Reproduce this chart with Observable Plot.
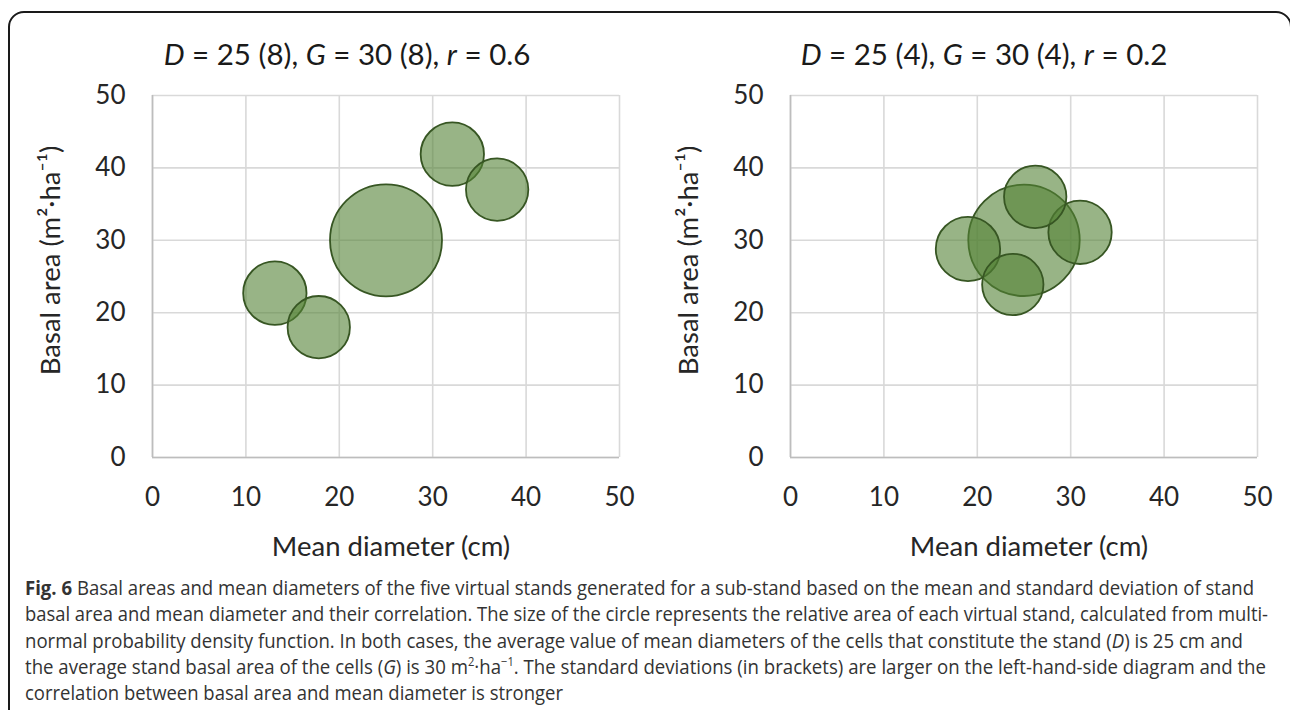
<!DOCTYPE html>
<html><head><meta charset="utf-8">
<script src="https://cdn.jsdelivr.net/npm/d3@7"></script>
<script src="https://cdn.jsdelivr.net/npm/@observablehq/plot@0.6"></script>
<style>
html,body{margin:0;padding:0;background:#fff;}
#page{position:relative;width:1290px;height:710px;overflow:hidden;background:#fff;}
#frame{position:absolute;left:8px;top:11px;width:1284px;height:760px;border:2px solid #1a1a1a;border-radius:16px;box-sizing:border-box;}
.title{position:absolute;top:36px;width:500px;text-align:center;font-family:Lato;font-size:29.5px;line-height:35px;color:#1a1a1a;white-space:nowrap;}
.chart{position:absolute;top:0;}
#caption{position:absolute;left:25px;top:575px;font-family:"Open Sans";font-size:20px;line-height:26.3px;color:#333;}
#caption .ln{display:block;width:max-content;white-space:nowrap;transform-origin:0 0;}
</style></head>
<body>
<div id="page">
  <div id="frame"></div>
  <div id="left" class="chart" style="left:0px"></div>
  <div id="right" class="chart" style="left:638px"></div>
  <div class="title" style="left:97px"><i>D</i> = 25 (8), <i>G</i> = 30 (8), <i>r</i> = 0.6</div>
  <div class="title" style="left:734px"><i>D</i> = 25 (4), <i>G</i> = 30 (4), <i>r</i> = 0.2</div>
  <div id="caption">
    <div class="ln"><b>Fig. 6</b> Basal areas and mean diameters of the five virtual stands generated for a sub-stand based on the mean and standard deviation of stand</div>
    <div class="ln">basal area and mean diameter and their correlation. The size of the circle represents the relative area of each virtual stand, calculated from multi-</div>
    <div class="ln">normal probability density function. In both cases, the average value of mean diameters of the cells that constitute the stand (<i>D</i>) is 25 cm and</div>
    <div class="ln">the average stand basal area of the cells (<i>G</i>) is 30 m<sup style="font-size:12px;line-height:0">2</sup>·ha<sup style="font-size:12px;line-height:0">−1</sup>. The standard deviations (in brackets) are larger on the left-hand-side diagram and the</div>
    <div class="ln">correlation between basal area and mean diameter is stronger</div>
  </div>
</div>
<script>
// ---- data ----
const xTicks = [0, 10, 20, 30, 40, 50];
const yTicks = [0, 10, 20, 30, 40, 50];
const xLabel = "Mean diameter (cm)";
const yLabel = "Basal area (m\u00B2\u00B7ha\u207B\u00B9)";

// left panel: D = 25 (8), G = 30 (8), r = 0.6
const leftDiameter  = [25.0, 32.1, 36.9, 13.1, 17.8];
const leftBasalArea = [30.0, 41.9, 37.0, 22.7, 18.0];
const leftRelArea   = [1.00, 0.32, 0.31, 0.32, 0.31];

// right panel: D = 25 (4), G = 30 (4), r = 0.2
const rightDiameter  = [25.0, 26.2, 31.0, 19.0, 23.8];
const rightBasalArea = [30.0, 36.0, 31.1, 28.8, 23.9];
const rightRelArea   = [0.99, 0.31, 0.32, 0.33, 0.30];

function panel(D, G, A) {
  const data = D.map((d, i) => ({d, g: G[i], a: A[i]}));
  return Plot.plot({
    width: 645, height: 570,
    marginLeft: 152, marginRight: 26, marginTop: 95, marginBottom: 113,
    style: {fontFamily: "Lato", fontSize: "26px", color: "#262626", background: "transparent", overflow: "visible"},
    x: {domain: [0, 50]},
    y: {domain: [0, 50]},
    r: {domain: [0, 1], range: [0, 56]},
    marks: [
      Plot.gridX(xTicks, {stroke: "#d9d9d9", strokeOpacity: 1, strokeWidth: 1.6}),
      Plot.gridY(yTicks, {stroke: "#d9d9d9", strokeOpacity: 1, strokeWidth: 1.6}),
      Plot.ruleX([0], {stroke: "#bdbdbd", strokeWidth: 1.6}),
      Plot.ruleY([0], {stroke: "#bdbdbd", strokeWidth: 1.6}),
      Plot.axisX(xTicks, {tickSize: 0, tickPadding: 30, label: null}),
      Plot.axisY(yTicks, {tickSize: 0, tickPadding: 27, label: null}),
      Plot.text([xLabel], {text: d => d, frameAnchor: "bottom", lineAnchor: "bottom", textAnchor: "middle", dx: 5, dy: 98, fontSize: 27.5}),
      Plot.text([yLabel], {text: d => d, frameAnchor: "left", rotate: -90, lineAnchor: "bottom", textAnchor: "middle", dx: -93, dy: -16, fontSize: 27.5}),
      Plot.dot(data, {x: "d", y: "g", r: "a", fill: "#548235", fillOpacity: 0.6, stroke: "#375623", strokeWidth: 1.8})
    ]
  });
}

document.getElementById("left").appendChild(panel(leftDiameter, leftBasalArea, leftRelArea));
document.getElementById("right").appendChild(panel(rightDiameter, rightBasalArea, rightRelArea));

// fit caption lines to the reference line widths
const captionWidths = [1229, 1243, 1218, 1241, 538];
document.querySelectorAll("#caption .ln").forEach((el, i) => {
  const w = el.getBoundingClientRect().width;
  el.style.transform = `scaleX(${captionWidths[i] / w})`;
});
</script>
</body></html>
